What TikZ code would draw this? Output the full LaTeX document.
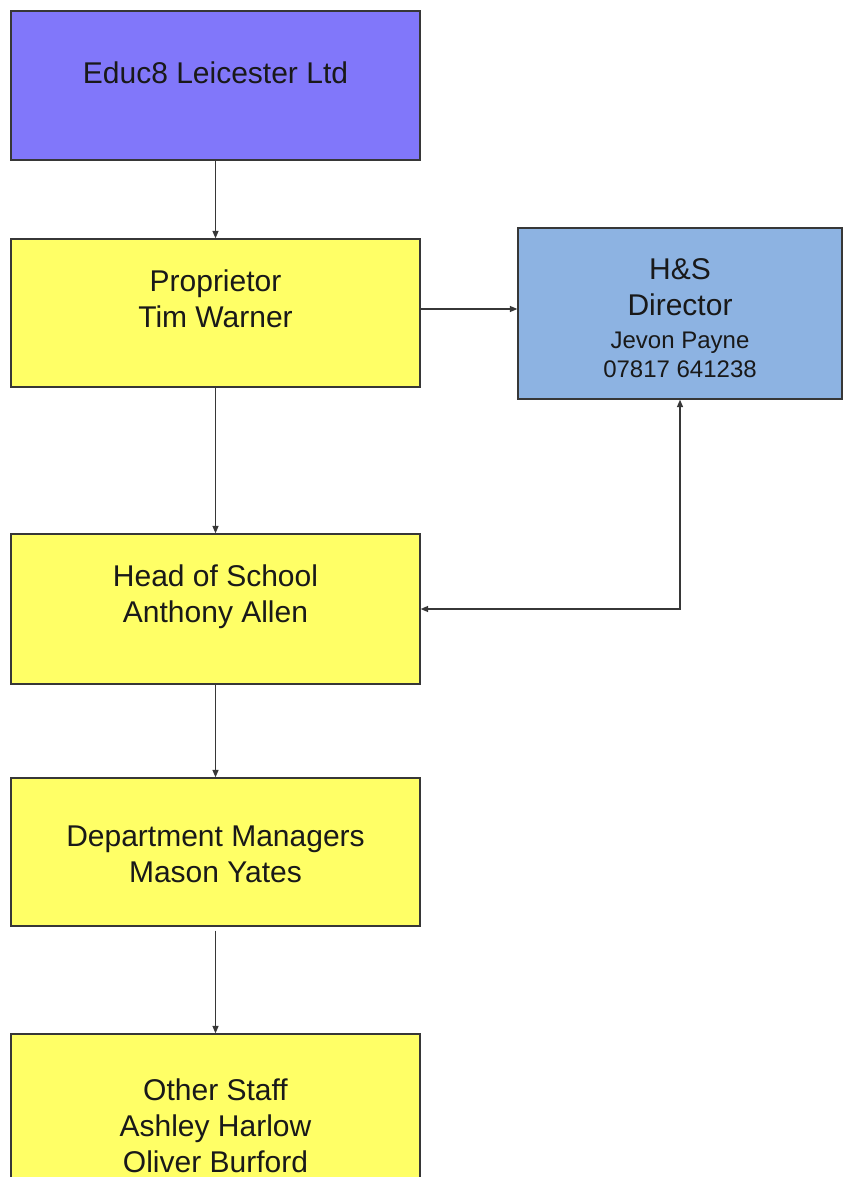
\documentclass[tikz,border=0pt]{standalone}
\usepackage{fontspec}
\setmainfont{Liberation Sans}
\usetikzlibrary{arrows.meta}
\definecolor{boxyellow}{RGB}{255,255,102}
\definecolor{boxpurple}{RGB}{129,119,250}
\definecolor{boxblue}{RGB}{141,179,226}
\definecolor{edge}{RGB}{55,55,55}
\newcommand\smalltxt[1]{{\fontsize{24}{29}\selectfont #1}}
\begin{document}
\begin{tikzpicture}[x = 1pt, y = -1pt,
    box/.style = {draw = edge, line width = 1.3pt, inner sep = 0pt,
      minimum width = 409pt, minimum height = 148pt},
    txt/.style = {align = center, inner sep = 0pt, text = black!90,
      font = \fontsize{30}{36}\selectfont},
    conn/.style = {draw = edge, line width = 1.4pt,
      -{Triangle[length = 7.5pt, width = 6pt]}}]
    \useasboundingbox (0,0) rectangle (843,1177);
    \clip (0,0) rectangle (843,1177);
    % boxes
    \node [box, fill = boxpurple, minimum height = 149pt] (educ) at (215.5,85.5) {};
    \node [box, fill = boxyellow] (prop) at (215.5,313) {};
    \node [box, fill = boxblue, minimum width = 324pt, minimum height = 171pt]
      (hs) at (680,313.5) {};
    \node [box, fill = boxyellow, minimum height = 150pt] (head) at (215.5,609) {};
    \node [box, fill = boxyellow] (dept) at (215.5,852) {};
    \node [box, fill = boxyellow] (other) at (215.5,1108) {};
    % texts
    \node [txt] (educ-t) at (215.5,73) {Educ8 Leicester Ltd};
    \node [txt] (prop-t) at (215.5,299) {Proprietor\\Tim Warner};
    \node [txt] (hs-t) at (680,318.5)
      {H\&S\\Director\\[-3pt]\smalltxt{Jevon Payne}\\[-7pt]\smalltxt{07817 641238}};
    \node [txt] (head-t) at (215.5,597) {Head of School\\Anthony Allen};
    \node [txt] (dept-t) at (215.5,854) {Department Managers\\Mason Yates};
    \node [txt] (other-t) at (215.5,1126) {Other Staff\\Ashley Harlow\\Oliver Burford};
    % connectors
    \draw [conn] (educ.south) -- (prop.north);
    \draw [conn] ([yshift = 4pt]prop.east) -- ([yshift = 4pt]prop.east -| hs.west);
    \draw [conn] (prop.south) -- (head.north);
    \draw [conn, {Triangle[length = 7.5pt, width = 6pt]}-{Triangle[length = 7.5pt, width = 6pt]}]
      (head.east) -| (hs.south);
    \draw [conn] (head.south) -- (dept.north);
    \draw [conn, shorten < = 4pt] (dept.south) -- (other.north);
  \end{tikzpicture}
\end{document}
